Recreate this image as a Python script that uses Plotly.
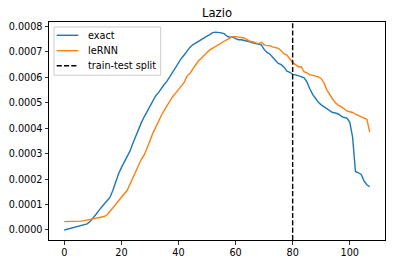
import plotly.graph_objects as go

# ---- data (values in units of 1e-4) ----
days = list(range(0, 108))
exact = [0.00, 0.03, 0.06, 0.08, 0.11, 0.14, 0.17, 0.19, 0.24, 0.33,
         0.45, 0.60, 0.75, 0.90, 1.02, 1.15, 1.28, 1.55, 1.90, 2.20,
         2.45, 2.68, 2.87, 3.10, 3.40, 3.70, 3.98, 4.22, 4.45, 4.65,
         4.87, 5.08, 5.27, 5.40, 5.58, 5.72, 5.85, 6.03, 6.22, 6.42,
         6.55, 6.75, 6.88, 7.05, 7.18, 7.28, 7.35, 7.42, 7.50,
         7.58, 7.62, 7.68, 7.76, 7.78, 7.77, 7.75, 7.72, 7.62, 7.58,
         7.59, 7.52, 7.48, 7.48, 7.46, 7.42, 7.40, 7.36, 7.33, 7.31,
         7.28, 7.10, 6.98, 6.92, 6.78, 6.66, 6.55, 6.50, 6.40, 6.24,
         6.20, 6.12, 6.10, 6.08, 6.03, 5.98, 5.82, 5.55, 5.33, 5.18,
         5.02, 4.92, 4.85, 4.75, 4.68, 4.62, 4.60, 4.56, 4.48, 4.42,
         4.40, 4.24, 3.65, 2.30, 2.25, 2.18, 1.93, 1.78, 1.70]
lernn = [0.33, 0.33, 0.33, 0.33, 0.34, 0.34, 0.35, 0.37, 0.39, 0.41,
         0.43, 0.45, 0.47, 0.49, 0.53, 0.60, 0.72, 0.85, 1.00, 1.15,
         1.28, 1.42, 1.55, 1.80, 2.05, 2.35, 2.60, 2.78, 2.95, 3.20,
         3.50, 3.80, 4.05, 4.28, 4.50, 4.70, 4.90, 5.08, 5.25, 5.38,
         5.52, 5.63, 5.80, 6.05, 6.15, 6.32, 6.48, 6.65, 6.75,
         6.88, 6.98, 7.08, 7.15, 7.22, 7.30, 7.38, 7.42, 7.48, 7.55,
         7.60, 7.60, 7.59, 7.58, 7.55, 7.48, 7.42, 7.40, 7.35, 7.32,
         7.38, 7.28, 7.25, 7.25, 7.20, 7.18, 7.14, 7.05, 6.92, 6.88,
         6.72, 6.58, 6.50, 6.42, 6.42, 6.22, 6.18, 6.10, 6.08, 6.05,
         6.02, 5.95, 5.78, 5.50, 5.30, 5.15, 5.00, 4.90, 4.85, 4.75,
         4.68, 4.65, 4.62, 4.55, 4.50, 4.45, 4.42, 4.35, 3.85]
split_x = 80
series_names = ["exact", "leRNN", "train-test split"]
series_colors = ["#1f77b4", "#ff7f0e", "#000000"]
title = "Lazio"
scale = 1e-4

exact_v = [v * scale for v in exact]
lernn_v = [v * scale for v in lernn]

y_lo, y_hi = -0.0000394, 0.0008177
x_lo, x_hi = -5.35, 112.35

font = "DejaVu Sans"
W, H = 394, 264
ML, MR, MT, MB = 49, 9, 22, 24
PW, PH = W - ML - MR, H - MT - MB
LW = 1.4
DASH = "5.1px,2.2px"

fig = go.Figure()
fig.add_trace(go.Scatter(x=days, y=exact_v, mode="lines", name=series_names[0],
                         line=dict(color=series_colors[0], width=LW)))
fig.add_trace(go.Scatter(x=days, y=lernn_v, mode="lines", name=series_names[1],
                         line=dict(color=series_colors[1], width=LW)))
fig.add_vline(x=split_x, line=dict(color=series_colors[2], width=LW, dash=DASH))

axis_common = dict(showline=True, linecolor="black", linewidth=1, mirror=True,
                   ticks="outside", ticklen=3.5, tickcolor="black", tickwidth=0.8,
                   showgrid=False, zeroline=False, automargin=False,
                   tickfont=dict(family=font, size=9.7, color="black"))

# ---- legend drawn in matplotlib style (pixel layout -> paper coords) ----
def px_x(px):
    return (px - ML) / PW

def px_y(py):
    return (MT + PH - py) / PH

fig.add_shape(type="rect", xref="paper", yref="paper",
              x0=px_x(54), x1=px_x(160.7), y0=px_y(75.3), y1=px_y(27),
              line=dict(color="#cccccc", width=1), fillcolor="rgba(255,255,255,0.8)",
              layer="above")
row_y = [35.3, 50.7, 65.7]
for i, name in enumerate(series_names):
    fig.add_shape(type="line", xref="paper", yref="paper",
                  x0=px_x(56.7), x1=px_x(78.3), y0=px_y(row_y[i]), y1=px_y(row_y[i]),
                  line=dict(color=series_colors[i], width=LW,
                            dash=DASH if i == 2 else "solid"),
                  layer="above")
    fig.add_annotation(x=px_x(85.7), y=px_y(row_y[i]), xref="paper", yref="paper",
                       text=name, showarrow=False, xanchor="left", yanchor="middle",
                       font=dict(family=font, size=9.7, color="black"))

fig.update_layout(
    width=W, height=H,
    margin=dict(l=ML, r=MR, t=MT, b=MB, autoexpand=False),
    paper_bgcolor="white", plot_bgcolor="white",
    font=dict(family=font, color="black"),
    title=dict(text=title, x=(ML + W - MR) / 2 / W, xanchor="center",
               y=1 - 12.8 / H, yanchor="middle", automargin=False,
               font=dict(family=font, size=11.6, color="black")),
    xaxis=dict(range=[x_lo, x_hi], tickmode="linear", tick0=0, dtick=20, **axis_common),
    yaxis=dict(range=[y_lo, y_hi], tickmode="linear", tick0=0, dtick=0.0001,
               tickformat=".4f", **axis_common),
    showlegend=False,
)

fig.write_html("out.html",
               config={"displayModeBar": False, "staticPlot": True},
               post_script="document.body.style.margin='0';document.body.style.overflow='hidden';")
